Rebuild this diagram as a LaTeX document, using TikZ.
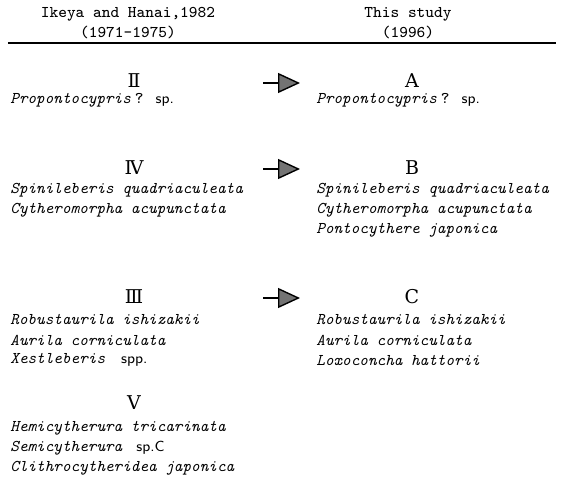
\documentclass[tikz,border=0pt]{standalone}
\usepackage{fontspec}
\newfontfamily\numfont{DejaVu Serif}
\usetikzlibrary{arrows.meta}
\tikzstyle{head} = [font=\ttfamily\fontsize{8.2}{9}\selectfont, inner sep=0pt]
\tikzstyle{group} = [font=\numfont\fontsize{9.5}{10}\selectfont, inner sep=0pt]
\tikzstyle{taxon} = [anchor=west, font=\ttfamily\itshape\fontsize{8.2}{10}\selectfont, inner sep=0pt]
\tikzstyle{line} = [draw, line width=0.7pt, -{Triangle[length=11pt,width=10pt,fill=black!55]}]
\newcommand{\spname}[1]{{\upshape\sffamily\fontsize{7.3}{8}\selectfont #1}}

\begin{document}
\begin{tikzpicture}[x=0.5pt,y=-0.5pt]
    \useasboundingbox (0,0) rectangle (564,481);
    % Header
    \node[head] (old1) at (128,14) {Ikeya and Hanai,1982};
    \node[head] (old2) at (128,32) {(1971-1975)};
    \node[head] (new1) at (408,14) {This study};
    \node[head] (new2) at (408,32) {(1996)};
    \coordinate (ruleL) at (8,43);
    \coordinate (ruleR) at (556,43);
    \draw[line width=0.8pt] (ruleL) -- (ruleR);
    % Place nodes
    \node[group] (ii) at (134,81) {Ⅱ};
    \node[taxon] (ii1) at (10,100) {Propontocypris\hspace{2pt}{\upshape ?}\hspace{6pt}\spname{sp.}};
    \node[group] (a) at (412,81) {A};
    \node[taxon] (a1) at (316,100) {Propontocypris\hspace{2pt}{\upshape ?}\hspace{6pt}\spname{sp.}};

    \node[group] (iv) at (134,168) {Ⅳ};
    \node[taxon] (iv1) at (10,190) {Spinileberis quadriaculeata};
    \node[taxon] (iv2) at (10,210) {Cytheromorpha acupunctata};
    \node[group] (b) at (412,168) {B};
    \node[taxon] (b1) at (316,190) {Spinileberis quadriaculeata};
    \node[taxon] (b2) at (316,210) {Cytheromorpha acupunctata};
    \node[taxon] (b3) at (316,230) {Pontocythere japonica};

    \node[group] (iii) at (134,297) {Ⅲ};
    \node[taxon] (iii1) at (10,320) {Robustaurila ishizakii};
    \node[taxon] (iii2) at (10,340) {Aurila corniculata};
    \node[taxon] (iii3) at (10,360) {Xestleberis\hspace{8pt}\spname{spp.}};
    \node[group] (c) at (412,297) {C};
    \node[taxon] (c1) at (316,320) {Robustaurila ishizakii};
    \node[taxon] (c2) at (316,340) {Aurila corniculata};
    \node[taxon] (c3) at (316,360) {Loxoconcha hattorii};

    \node[group] (v) at (134,403) {Ⅴ};
    \node[taxon] (v1) at (10,428) {Hemicytherura tricarinata};
    \node[taxon] (v2) at (10,448) {Semicytherura\hspace{7pt}\spname{sp.C}};
    \node[taxon] (v3) at (10,468) {Clithrocytheridea japonica};
    % Draw edges
    \coordinate (s1) at (263,83);
    \coordinate (e1) at (300,83);
    \coordinate (s2) at (263,169);
    \coordinate (e2) at (300,169);
    \coordinate (s3) at (263,298);
    \coordinate (e3) at (300,298);
    \path [line] (s1) -- (e1);
    \path [line] (s2) -- (e2);
    \path [line] (s3) -- (e3);
\end{tikzpicture}
\end{document}
